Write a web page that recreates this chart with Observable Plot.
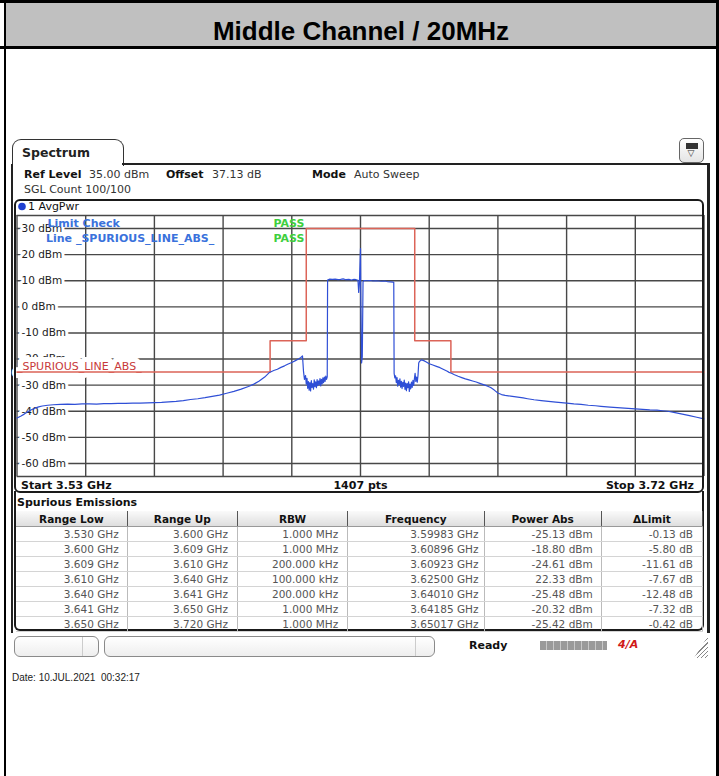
<!DOCTYPE html>
<html><head><meta charset="utf-8">
<script src="https://cdn.jsdelivr.net/npm/d3@7"></script>
<script src="https://cdn.jsdelivr.net/npm/@observablehq/plot@0.6"></script>
<style>
html,body{margin:0;padding:0;background:#fff;}
#page{position:relative;width:719px;height:776px;overflow:hidden;font-family:"DejaVu Sans",sans-serif;color:#111;}
.abs{position:absolute;}
.b{font-weight:bold;}
.t11{font-size:11px;white-space:pre;line-height:14px;}
#tbl{position:absolute;left:16px;top:511px;width:687px;border-collapse:collapse;table-layout:fixed;font-size:10.5px;}
#tbl th{height:15px;padding:0;font-weight:bold;color:#111;background:linear-gradient(#fafafa,#dedede);border-right:1.5px solid #555;border-bottom:1px solid #999;text-align:center;}
#tbl td{height:14px;padding:0;color:#555;text-align:right;border-right:1px solid #bbb;border-bottom:1px solid #d4d4d4;white-space:pre;}
</style></head>
<body><div id="page"></div>
<script>
// ---------------- data ----------------
const chartTitle = "Middle Channel / 20MHz";
const xDomain = [3.53, 3.72];            // GHz (Start / Stop)
const yDomain = [-65, 35];               // dBm
const sweepPoints = 1407;
const xGrid = [3.530, 3.549, 3.568, 3.587, 3.606, 3.625, 3.644, 3.663, 3.682, 3.701, 3.720];
const yGrid = [35, 30, 20, 10, 0, -10, -20, -30, -40, -50, -60, -65];
const yTickLabels = [30, 20, 10, 0, -10, -20, -30, -40, -50, -60];

// spurious emissions table
const rangeLow  = [3.530, 3.600, 3.609, 3.610, 3.640, 3.641, 3.650];
const rangeUp   = [3.600, 3.609, 3.610, 3.640, 3.641, 3.650, 3.720];
const rbw       = ["1.000 MHz", "1.000 MHz", "200.000 kHz", "100.000 kHz", "200.000 kHz", "1.000 MHz", "1.000 MHz"];
const peakFreq  = [3.59983, 3.60896, 3.60923, 3.62500, 3.64010, 3.64185, 3.65017];
const powerAbs  = [-25.13, -18.80, -24.61, 22.33, -25.48, -20.32, -25.42];
const deltaLim  = [-0.13, -5.80, -11.61, -7.67, -12.48, -7.32, -0.42];

// trace (1 AvgPwr)
const traceFreq = [
 3.5300,3.5310,3.5320,3.5330,3.5340,3.5350,3.5360,3.5370,3.5385,3.5400,3.5420,3.5440,3.5460,3.5480,3.5500,
 3.5520,3.5540,3.5560,3.5580,3.5600,3.5620,3.5640,3.5660,3.5680,3.5700,3.5720,3.5740,3.5760,3.5780,3.5800,
 3.5820,3.5840,3.5860,3.5880,3.5900,3.5920,3.5940,3.5955,3.5970,3.5985,3.59983,3.6010,3.6020,3.6030,3.6040,
 3.6050,3.6060,3.6070,3.6080,3.6085,3.60896,3.60923,
 3.6095,3.6098,3.6100,3.6102,3.6104,3.6106,3.6108,3.6110,3.6112,3.6114,3.6116,3.6118,3.6120,3.6122,3.6124,
 3.6126,3.6128,3.6130,3.6132,3.6134,3.6136,3.6138,3.6140,3.6142,3.6144,3.6146,3.6148,3.6150,3.6152,3.6154,
 3.6156,3.6158,
 3.6159,3.6165,3.6172,3.6180,3.6188,3.6195,3.6202,3.6210,3.6218,3.6225,3.6232,3.6238,3.6243,
 3.6245,3.6247,3.6249,3.6250,3.6251,3.6253,3.6255,3.6257,
 3.6260,3.6268,3.6276,3.6284,3.6292,3.6300,3.6308,3.6316,3.6324,3.6332,3.6340,3.6342,
 3.6343,3.6345,3.6347,3.6349,3.6351,3.6353,3.6355,3.6357,3.6359,3.6361,3.6363,3.6365,3.6367,3.6369,3.6371,
 3.6373,3.6375,3.6377,3.6379,3.6381,3.6383,3.6385,3.6387,3.6389,3.6391,3.6393,3.6395,3.6397,3.6399,3.6401,
 3.6403,3.6405,3.6407,3.6409,
 3.6411,3.6413,3.64185,3.6425,3.6432,3.6440,3.6450,3.6460,3.6470,3.6480,3.6490,3.6495,3.65017,3.6510,3.6520,
 3.6530,3.6540,3.6550,3.6560,3.6570,3.6580,3.6590,3.6600,3.6610,3.6620,3.6630,3.6640,3.6650,3.6665,3.6680,
 3.6700,3.6712,3.6730,3.6750,3.6770,3.6790,3.6820,3.6840,3.6860,3.6880,3.6900,3.6915,3.6940,3.6960,3.6980,
 3.7000,3.7010,3.7030,3.7050,3.7070,3.7085,3.7100,3.7120,3.7140,3.7160,3.7180,3.7200
];
const tracePow = [
 -42.6,-41.9,-41.1,-40.2,-39.4,-38.8,-38.3,-38.0,-37.7,-37.5,-37.4,-37.3,-37.4,-37.2,-37.2,
 -37.3,-37.1,-37.1,-37.0,-37.0,-36.9,-36.9,-36.8,-36.7,-36.6,-36.4,-36.2,-35.9,-35.5,-35.2,
 -34.8,-34.3,-33.8,-33.1,-32.4,-31.5,-30.5,-29.6,-28.4,-26.9,-25.13,-24.4,-23.9,-23.2,-22.6,
 -21.9,-21.3,-20.6,-19.9,-19.4,-18.80,-24.61,
 -27.8,-26.3,-29.6,-27.4,-31.2,-28.6,-31.9,-29.0,-32.2,-28.3,-30.9,-29.4,-31.5,-28.0,-30.6,
 -28.7,-31.0,-27.9,-30.2,-28.4,-29.8,-27.5,-30.3,-27.8,-29.5,-27.2,-29.0,-26.9,-28.6,-26.5,
 -27.8,-26.8,
 10.3,10.6,10.5,10.6,10.4,10.5,10.7,10.4,10.5,10.3,10.5,10.4,10.2,
 5.5,9.0,18.0,22.33,2.0,-21.5,-19.0,9.6,
 10.1,10.0,10.1,9.9,10.0,9.9,9.8,9.9,9.7,9.6,9.5,9.4,
 -25.5,-27.2,-26.4,-29.0,-27.1,-30.4,-28.2,-29.7,-27.6,-30.8,-28.5,-31.3,-28.9,-30.5,-28.1,
 -31.6,-29.2,-32.1,-29.4,-31.0,-28.7,-32.4,-29.6,-31.4,-28.8,-30.9,-28.2,-30.1,-27.7,-25.48,
 -28.6,-26.9,-28.9,-26.3,
 -21.5,-20.9,-20.32,-20.6,-21.1,-21.8,-22.3,-22.8,-23.3,-24.0,-24.7,-25.1,-25.42,-26.0,-26.6,
 -27.1,-27.6,-28.0,-28.4,-28.8,-29.3,-29.8,-30.3,-30.9,-31.9,-33.0,-33.6,-33.9,-34.2,-34.5,
 -34.9,-35.2,-35.6,-35.9,-36.2,-36.5,-36.9,-37.2,-37.4,-37.7,-37.9,-38.1,-38.4,-38.6,-38.8,
 -39.0,-39.1,-39.3,-39.5,-39.6,-39.8,-40.0,-40.5,-41.1,-41.7,-42.3,-42.9
];

// ---------------- derived tables ----------------
const limitVal = powerAbs.map((p, i) => p - deltaLim[i]);
const limitPts = [];
rangeLow.forEach((lo, i) => { limitPts.push({f: lo, p: limitVal[i]}); limitPts.push({f: rangeUp[i], p: limitVal[i]}); });
const trace = traceFreq.map((f, i) => ({f, p: tracePow[i]}));

// ---------------- page scaffold ----------------
const page = document.getElementById("page");
function el(tag, css, html, cls) { const e = document.createElement(tag); e.className = cls || "abs"; e.style.cssText = css; if (html !== undefined) e.innerHTML = html; page.appendChild(e); return e; }

// outer report frame
el("div", "left:6px;top:3px;width:710px;height:44px;background:#c0c0c0;");
el("div", "left:6px;top:3px;width:710px;height:44px;font:bold 26px 'Liberation Sans',Arial,sans-serif;text-align:center;line-height:56px;color:#000;", chartTitle);
el("div", "left:0;top:0;width:719px;height:3px;background:#000;");
el("div", "left:0;top:46px;width:719px;height:3px;background:#000;");
el("div", "left:4px;top:0;width:2px;height:776px;background:#000;");
el("div", "left:716px;top:0;width:3px;height:776px;background:#000;");

// instrument screen chrome
el("div", "left:12px;top:139px;width:110px;height:26px;border:1.5px solid #333;border-bottom:none;border-radius:9px 9px 0 0;background:#fff;");
el("div", "left:22px;top:145px;font-size:12.5px;font-weight:bold;line-height:16px;color:#222;", "Spectrum");
el("div", "left:122px;top:163px;width:588px;height:2px;background:#222;");
el("div", "left:11px;top:164px;width:2px;height:469px;background:#222;");
el("div", "left:707px;top:163px;width:3px;height:470px;background:#222;");
// icon
el("div", "left:679px;top:138px;width:23px;height:23px;border:1px solid #666;border-radius:5px;background:linear-gradient(#fff,#e4e4e4);");
el("div", "left:686px;top:143px;width:10px;height:4px;background:#333;border:1px solid #333;");
el("div", "left:684px;top:147px;width:14px;font-size:9px;line-height:12px;text-align:center;color:#333;", "▽");

// header text
el("div", "left:24px;top:168px;", "<span class='b'>Ref Level</span>", "abs t11");
el("div", "left:89px;top:168px;color:#333;", "35.00 dBm", "abs t11");
el("div", "left:166px;top:168px;", "<span class='b'>Offset</span>", "abs t11");
el("div", "left:212px;top:168px;color:#333;", "37.13 dB", "abs t11");
el("div", "left:312px;top:168px;", "<span class='b'>Mode</span>", "abs t11");
el("div", "left:354px;top:168px;color:#333;", "Auto Sweep", "abs t11");
el("div", "left:24px;top:183px;color:#333;", "SGL Count 100/100", "abs t11");

// graph box background
el("div", "left:14px;top:199px;width:690px;height:294px;background:#fff;");

// ---------------- the chart ----------------
const blue = "#2f4fd6";
const limitBlue = "#3a72dc";
const passGreen = "#3fcf3f";
const chart = Plot.plot({
  width: 691, height: 294,
  marginLeft: 2.5, marginRight: 1.5, marginTop: 16, marginBottom: 17,
  x: {domain: xDomain, axis: null},
  y: {domain: yDomain, axis: null},
  style: {background: "transparent", fontFamily: "'DejaVu Sans', sans-serif", fontSize: "10.5px", overflow: "visible"},
  marks: [
    Plot.ruleY(yGrid, {stroke: "#484848", strokeWidth: 1.4}),
    Plot.ruleX(xGrid, {stroke: "#484848", strokeWidth: 1.4}),
    Plot.text(yTickLabels, {x: () => xDomain[0], y: d => d, text: d => `${d} dBm`, dx: 4.5, textAnchor: "start",
      fill: "#222", stroke: "white", strokeWidth: 6, strokeLinejoin: "round", paintOrder: "stroke", fontSize: 10.5}),
    Plot.text(["_SPURIOUS_LINE_ABS_"], {x: () => xDomain[0], y: () => limitVal[0], text: d => d, dy: -6, dx: 0,
      textAnchor: "start", fill: "#c83a3a", stroke: "white", strokeWidth: 10, strokeLinejoin: "round", paintOrder: "stroke", fontSize: 11}),
    Plot.line(limitPts, {x: "f", y: "p", stroke: "#dc6458", strokeWidth: 1.5}),
    Plot.line(trace, {x: "f", y: "p", stroke: blue, strokeWidth: 1.2}),
    Plot.text(["Limit Check"], {frameAnchor: "top-left", text: d => d, dx: 30.5, dy: 7.7, lineAnchor: "middle",
      fill: limitBlue, fontWeight: "bold", fontSize: 11}),
    Plot.text(["Line _SPURIOUS_LINE_ABS_"], {frameAnchor: "top-left", text: d => d, dx: 29, dy: 23.3, lineAnchor: "middle",
      fill: limitBlue, fontWeight: "bold", fontSize: 11}),
    Plot.text(["PASS"], {frameAnchor: "top-left", text: d => d, dx: 256.5, dy: 7.7, lineAnchor: "middle",
      fill: passGreen, fontWeight: "bold", fontSize: 11}),
    Plot.text(["PASS"], {frameAnchor: "top-left", text: d => d, dx: 256.5, dy: 23.3, lineAnchor: "middle",
      fill: passGreen, fontWeight: "bold", fontSize: 11}),
    Plot.dot([0], {x: () => xDomain[0], y: () => yDomain[1], dx: 5, dy: -9, r: 3.8, fill: "#1f3fd0"}),
    Plot.text(["1 AvgPwr"], {frameAnchor: "top-left", text: d => d, dx: 11, dy: -9, lineAnchor: "middle", fill: "#111", fontSize: 11}),
    Plot.text([`Start ${xDomain[0]} GHz`], {frameAnchor: "bottom-left", text: d => d, dx: 4, dy: 9, lineAnchor: "middle",
      fill: "#111", fontWeight: "bold", fontSize: 11}),
    Plot.text([`${sweepPoints} pts`], {frameAnchor: "bottom", text: d => d, dy: 9, lineAnchor: "middle",
      fill: "#111", fontWeight: "bold", fontSize: 11}),
    Plot.text([`Stop ${xDomain[1]} GHz`], {frameAnchor: "bottom-right", text: d => d, dx: -10, dy: 9, lineAnchor: "middle",
      fill: "#111", fontWeight: "bold", fontSize: 11})
  ]
});
chart.style.position = "absolute";
chart.style.left = "14px";
chart.style.top = "199px";
page.appendChild(chart);

// graph box border (above chart)
el("div", "left:14px;top:199px;width:686px;height:290px;border:2px solid #1a1a1a;border-radius:6px;pointer-events:none;");

// ---------------- spurious emissions table ----------------
el("div", "left:14px;top:491px;width:686px;height:138px;border:2px solid #1a1a1a;border-top:none;border-radius:0 0 6px 6px;pointer-events:none;");
el("div", "left:17px;top:496px;", "<span class='b'>Spurious Emissions</span>", "abs t11");
const tbl = document.createElement("table");
tbl.id = "tbl";
const colW = [111, 110, 110, 136, 117, 101];
const padR = [8, 9, 9, 5, 8, 9];
const heads = ["Range Low", "Range Up", "RBW", "Frequency", "Power Abs", "ΔLimit"];
let html = "<colgroup>" + colW.map(w => `<col style="width:${w}px">`).join("") + "</colgroup><tr>" +
  heads.map(h => `<th>${h}</th>`).join("") + "</tr>";
rangeLow.forEach((lo, i) => {
  const cells = [lo.toFixed(3) + " GHz", rangeUp[i].toFixed(3) + " GHz", rbw[i], peakFreq[i].toFixed(5) + " GHz",
                 powerAbs[i].toFixed(2) + " dBm", deltaLim[i].toFixed(2) + " dB"];
  html += "<tr>" + cells.map((c, j) => `<td style="padding-right:${padR[j]}px">${c}</td>`).join("") + "</tr>";
});
tbl.innerHTML = html;
page.appendChild(tbl);

// ---------------- status bar ----------------
el("div", "left:14px;top:636px;width:83px;height:19px;border:1px solid #8a8a8a;border-radius:6px;background:linear-gradient(#fff,#eee);");
el("div", "left:82px;top:637px;width:1px;height:19px;background:#ccc;");
el("div", "left:104px;top:636px;width:329px;height:19px;border:1px solid #8a8a8a;border-radius:6px;background:linear-gradient(#fff,#eee);");
el("div", "left:415px;top:637px;width:1px;height:19px;background:#ccc;");
el("div", "left:469px;top:639px;", "<span class='b'>Ready</span>", "abs t11");
el("div", "left:540px;top:641px;width:67px;height:9px;background:repeating-linear-gradient(90deg,#9a9a9a 0 6px,#c8c8c8 6px 7px);");
el("div", "left:618px;top:638px;font:italic bold 11px 'DejaVu Sans';color:#d01818;line-height:14px;", "4/A");
el("div", "left:694px;top:636px;width:14px;height:22px;background:repeating-linear-gradient(135deg,transparent 0 2px,#888 2px 3px);clip-path:polygon(100% 0,100% 100%,0 100%);");

// date line
el("div", "left:12px;top:672px;font:10px 'Liberation Sans',Arial,sans-serif;color:#222;white-space:pre;", "Date: 10.JUL.2021  00:32:17");
</script>
</body></html>
